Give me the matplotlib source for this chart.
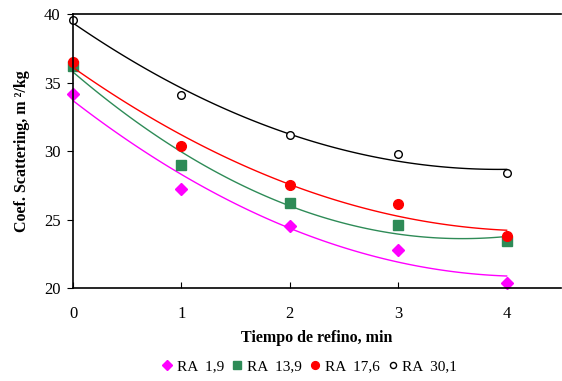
import numpy as np
import matplotlib
matplotlib.use("Agg")
from matplotlib import pyplot as plt

plt.rcParams['font.family'] = ['Liberation Serif', 'DejaVu Serif']

tiempo = [0, 1, 2, 3, 4]
ra_1_9 = [34.2, 27.2, 24.5, 22.8, 20.4]
ra_13_9 = [36.2, 29.0, 26.2, 24.6, 23.4]
ra_17_6 = [36.5, 30.4, 27.5, 26.1, 23.8]
ra_30_1 = [39.6, 34.1, 31.2, 29.8, 28.4]

series = [
    ("RA  1,9", ra_1_9, "#FF00FF", "D", 6, "#FF00FF"),
    ("RA  13,9", ra_13_9, "#2E8B57", "s", 6.5, "#2E8B57"),
    ("RA  17,6", ra_17_6, "#FF0000", "o", 7, "#FF0000"),
    ("RA  30,1", ra_30_1, "black", "o", 5.5, "white"),
]

fig = plt.figure(figsize=(5.62, 3.81), dpi=100)
ax = fig.add_axes([0.130, 0.244, 0.868, 0.719])

xs = np.linspace(0, 4, 100)
for label, vals, col, mk, ms, face in series:
    # Excel-style 2nd order polynomial trendline
    coef = np.polyfit(tiempo, vals, 2)
    ax.plot(xs, np.polyval(coef, xs), color=col, lw=1.0)
    ax.plot(tiempo, vals, linestyle="none", marker=mk, ms=ms,
            markerfacecolor=face, markeredgecolor=col, markeredgewidth=1.0,
            label=label, clip_on=False)

ax.set_xlim(0, 4.5)
ax.set_ylim(20, 40)
ax.set_xticks(tiempo)
ax.set_yticks([20, 25, 30, 35, 40])
ax.tick_params(axis='x', direction='in', length=4, labelsize=12, pad=13)
ax.tick_params(axis='y', direction='out', length=4, labelsize=12, pad=5)
ax.spines['right'].set_visible(False)
for s in ['left', 'bottom', 'top']:
    ax.spines[s].set_linewidth(1.2)

ax.set_xlabel("Tiempo de refino, min", fontweight='bold', fontsize=11.5, labelpad=6)
ax.set_ylabel("Coef. Scattering, m \u00b2/kg", fontweight='bold', fontsize=11.5, labelpad=10)

ax.legend(loc='upper center', bbox_to_anchor=(0.486, -0.21), ncol=4, frameon=False,
          fontsize=11, markerscale=0.8, handlelength=0.5, handletextpad=0.4,
          columnspacing=0.6)

plt.savefig("out.png", dpi=100)
